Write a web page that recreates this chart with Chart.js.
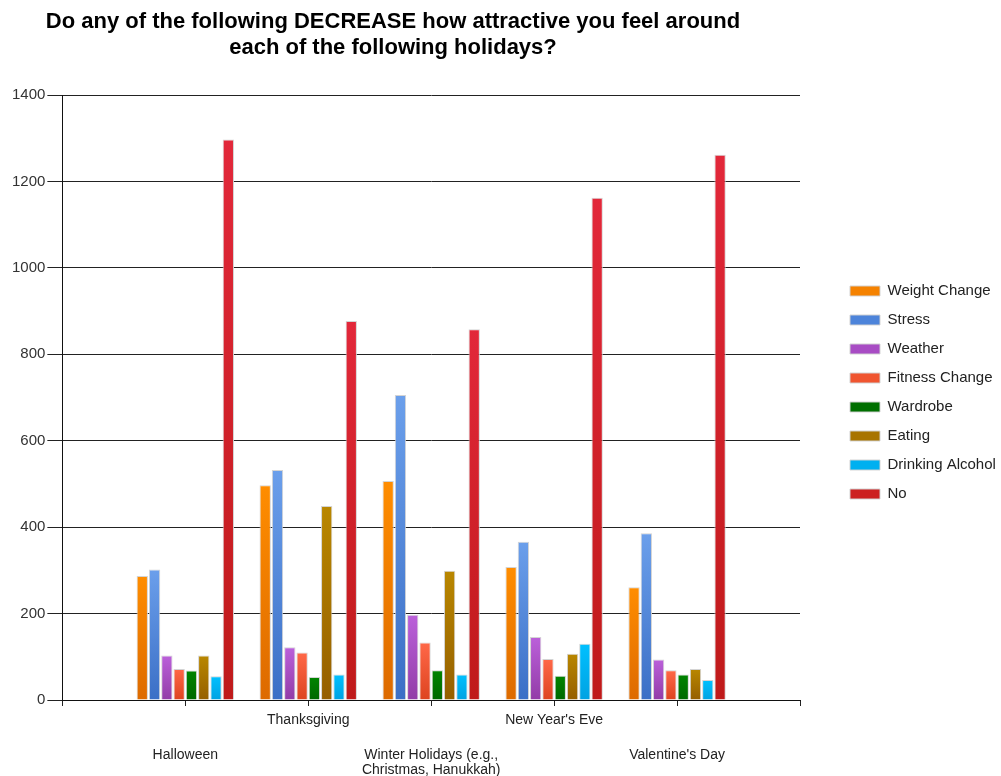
<!DOCTYPE html>
<html>
<head>
<meta charset="utf-8">
<script src="https://cdn.jsdelivr.net/npm/chart.js@4.4.1/dist/chart.umd.min.js"></script>
<style>
  html, body { margin: 0; padding: 0; background: #fff; }
  #wrap { position: relative; width: 1001px; height: 776px; }
  #c { position: absolute; left: 0; top: 0; }
  #title {
    position: absolute; left: 0; top: 8px; width: 786px;
    text-align: center; color: #000;
    font: bold 22px "Liberation Sans", Arial, sans-serif; line-height: 26px;
  }
</style>
</head>
<body>
<div id="wrap">
  <canvas id="c" width="1001" height="776"></canvas>
  <div id="title">Do any of the following DECREASE how attractive you feel around<br>each of the following holidays?</div>
</div>
<script>
// Holidays on the x axis
const holidays = [
  'Halloween',
  'Thanksgiving',
  ['Winter Holidays (e.g.,', 'Christmas, Hanukkah)'],
  "New Year's Eve",
  "Valentine's Day"
];

// Responses per holiday
const weightChange    = [287, 497, 507, 308, 261];
const stress          = [302, 532, 706, 366, 386];
const weather         = [103, 122, 197, 146, 94];
const fitnessChange   = [72, 110, 133, 95, 69];
const wardrobe        = [68, 53, 69, 56, 59];
const eating          = [103, 449, 299, 107, 72];
const drinkingAlcohol = [55, 59, 59, 130, 46];
const no              = [1297, 877, 858, 1162, 1262];

// Value axis ticks
const yTicks = [0, 200, 400, 600, 800, 1000, 1200, 1400];

const FONT = '"Liberation Sans", Arial, sans-serif';
Chart.defaults.font.family = FONT;

// One empty slot before and after the holidays, so the axis has tick marks at both ends
const labels = [''].concat(holidays, ['']);
const pad = arr => [null].concat(arr, [null]);

// Vertical gradient per bar: lighter at the top, darker at the base
function barFill(top, bottom, flat) {
  return ctx => {
    if (ctx.type !== 'data' || !ctx.parsed) return flat;
    const ys = ctx.chart.scales.y;
    const yTop = ys.getPixelForValue(ctx.parsed.y);
    const yBase = ys.getPixelForValue(0);
    if (!isFinite(yTop) || !isFinite(yBase) || yBase - yTop < 1) return flat;
    const g = ctx.chart.ctx.createLinearGradient(0, yTop, 0, yBase);
    g.addColorStop(0, top);
    g.addColorStop(1, bottom);
    return g;
  };
}

const series = [
  ['Weight Change',    weightChange,    '#ff8d00', '#dd6a00', '#f58200'],
  ['Stress',           stress,          '#6b9feb', '#3b6fc6', '#4d84da'],
  ['Weather',          weather,         '#bb60da', '#923ca7', '#a84cc4'],
  ['Fitness Change',   fitnessChange,   '#ff6848', '#dd4420', '#f05530'],
  ['Wardrobe',         wardrobe,        '#008400', '#006800', '#006f00'],
  ['Eating',           eating,          '#b98700', '#955f00', '#a87400'],
  ['Drinking Alcohol', drinkingAlcohol, '#00c0ff', '#00a2e2', '#00b0f0'],
  ['No',               no,              '#e2283a', '#bf1a1a', '#cc2020']
];

const datasets = series.map(([name, values, top, bottom, flat]) => ({
  label: name,
  data: pad(values),
  backgroundColor: barFill(top, bottom, flat),
  borderColor: 'rgba(210,210,210,0.95)',
  borderWidth: 1,
  categoryPercentage: 0.8,
  barPercentage: 0.92
}));

// Holidays alternate between an upper and a lower label row
const lowerRow = i => i % 2 === 1;

new Chart(document.getElementById('c'), {
  type: 'bar',
  data: { labels, datasets },
  options: {
    responsive: false,
    animation: false,
    layout: { padding: { left: 10, top: 9, right: 0, bottom: 0 } },
    plugins: {
      title: { display: false },
      tooltip: { enabled: false },
      legend: {
        position: 'right',
        align: 'center',
        maxWidth: 165,
        labels: {
          boxWidth: 30,
          boxHeight: 10,
          padding: 14,
          color: '#222',
          font: { size: 15, family: FONT }
        }
      }
    },
    scales: {
      x: {
        type: 'category',
        offset: false,
        afterFit: s => { s.height = 76; },
        grid: {
          display: true,
          offset: false,
          drawOnChartArea: false,
          drawTicks: true,
          tickLength: 6,
          color: '#222',
          lineWidth: 1
        },
        border: { display: true, color: '#111', width: 1 },
        ticks: {
          autoSkip: false,
          maxRotation: 0,
          minRotation: 0,
          padding: 12,
          color: '#222',
          callback: function (value, index) {
            const lab = labels[index];
            if (lab === '') return '';
            const lines = Array.isArray(lab) ? lab : [lab];
            return lowerRow(index) ? ['', ''].concat(lines) : lines;
          },
          font: ctx => ({
            family: FONT,
            size: 14,
            lineHeight: lowerRow(ctx.index) ? '15px' : '5px'
          })
        }
      },
      xTop: {
        type: 'linear',
        axis: 'x',
        position: 'top',
        display: true,
        grid: { display: false },
        border: { display: false },
        ticks: { display: false },
        afterFit: s => { s.height = 86; }
      },
      y: {
        type: 'linear',
        min: 0,
        max: 1400,
        afterBuildTicks: s => { s.ticks = yTicks.map(v => ({ value: v })); },
        grid: {
          display: true,
          color: '#222',
          lineWidth: 1,
          drawTicks: true,
          tickLength: 15
        },
        border: { display: true, color: '#111', width: 1 },
        ticks: {
          padding: 2,
          color: '#333',
          font: { size: 15, family: FONT },
          callback: v => String(v)
        }
      },
      yRight: {
        type: 'linear',
        axis: 'y',
        position: 'right',
        display: true,
        grid: { display: false },
        border: { display: false },
        ticks: { display: false },
        afterFit: s => { s.width = 36; }
      }
    }
  }
});
</script>
</body>
</html>
